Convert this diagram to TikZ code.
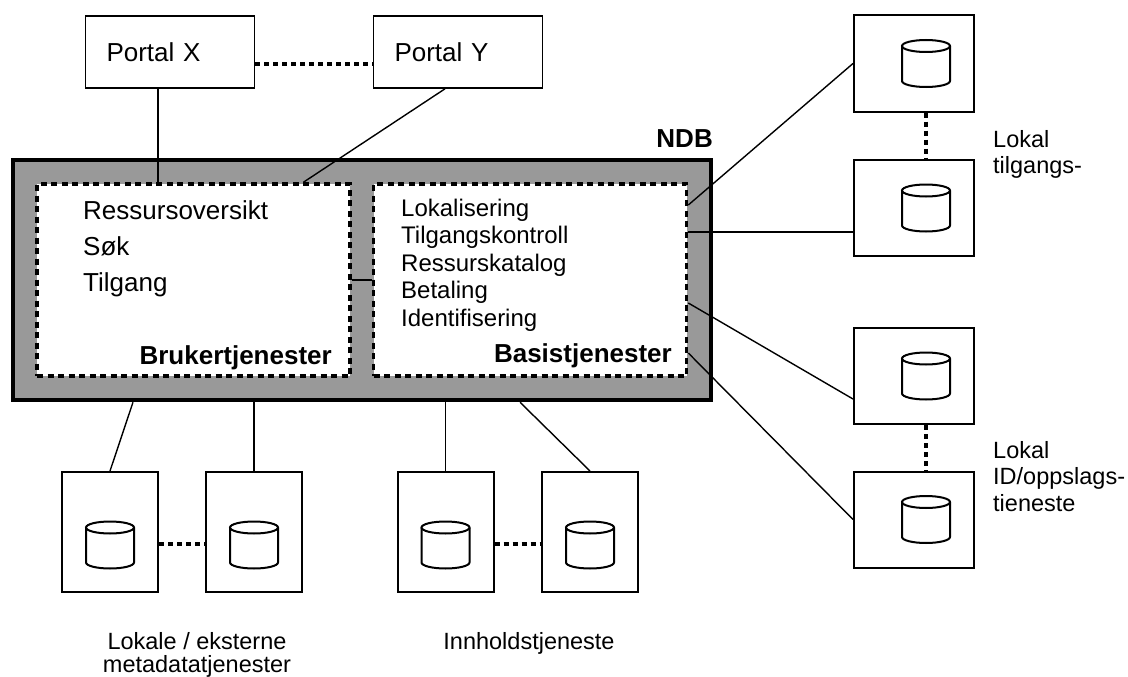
\documentclass[tikz,border=0pt]{standalone}
\usepackage{fontspec}
\setmainfont{Liberation Sans}
\usetikzlibrary{positioning}

\tikzset{dbcyl/.pic={
    \draw[line width=2pt, fill=white] (-24,-17.5) -- (-24,17.5) arc[start angle=180, end angle=360, x radius=24pt, y radius=6pt] -- (24,-17.5);
    \draw[line width=2pt, fill=white] (0,-17.5) ellipse [x radius=24pt, y radius=6pt];
}}

\begin{document}
\begin{tikzpicture}[x=1pt, y=-1pt,
    portal/.style={draw, line width=1.6pt, minimum height=72pt, inner xsep=21pt, text width=127pt, align=left, font=\fontsize{26}{30}\selectfont},
    area/.style={draw, line width=3.6pt, dash pattern=on 6pt off 4.5pt, fill=white, minimum width=313pt, minimum height=192pt},
    hbox/.style={draw, line width=2pt, fill=white, minimum width=120pt, minimum height=96pt},
    vbox/.style={draw, line width=2pt, fill=white, minimum width=96pt, minimum height=120pt},
    link/.style={line width=1.4pt},
    dots/.style={line width=3.2pt, dash pattern=on 5pt off 4pt},
    item/.style={anchor=base west, inner sep=0pt, font=\fontsize{26}{30}\selectfont},
    smallitem/.style={anchor=base west, inner sep=0pt, font=\fontsize{24}{28}\selectfont},
    caption/.style={inner sep=0pt, font=\fontsize{23.5}{26}\selectfont},
    title/.style={anchor=base east, inner sep=0pt, font=\bfseries\fontsize{26}{30}\selectfont}]
    \useasboundingbox (0,0) rectangle (1128,677);

    \node[portal] (portalX) at (170,52) {Portal X};
    \node[portal] (portalY) at (458,52) {Portal Y};

    \node[draw, line width=4.5pt, fill=black!40, minimum width=698pt, minimum height=240pt] (ndb) at (362,280) {};
    \node[title] (ndbname) at (713,147) {NDB};
    \node[area] (brk) at (193.5,280) {};
    \node[area] (bas) at (530,280) {};

    \node[item] (res) at (83,219) {Ressursoversikt};
    \node[item] (sok) at (83,255) {Søk};
    \node[item] (tilg) at (83,291) {Tilgang};
    \node[title] (brkname) at (332,364) {Brukertjenester};

    \node[smallitem] (lok) at (401,216) {Lokalisering};
    \node[smallitem] (tk) at (401,243.5) {Tilgangskontroll};
    \node[smallitem] (rk) at (401,271) {Ressurskatalog};
    \node[smallitem] (bet) at (401,298.5) {Betaling};
    \node[smallitem] (ident) at (401,326) {Identifisering};
    \node[title] (basname) at (672,362) {Basistjenester};

    \node[hbox] (r1) at (914,63.5) {};
    \node[hbox] (r2) at (914,208) {};
    \node[hbox] (r3) at (914,376) {};
    \node[hbox] (r4) at (914,519.5) {};
    \node[vbox] (ba) at (110,532) {};
    \node[vbox] (bb) at (254,532) {};
    \node[vbox] (bc) at (445.5,532) {};
    \node[vbox] (bd) at (590,532) {};

    \pic at ([xshift=12pt]r1.center) {dbcyl};
    \pic at ([xshift=12pt]r2.center) {dbcyl};
    \pic at ([xshift=12pt]r3.center) {dbcyl};
    \pic at ([xshift=12pt]r4.center) {dbcyl};
    \pic at ([yshift=-13pt]ba.center) {dbcyl};
    \pic at ([yshift=-13pt]bb.center) {dbcyl};
    \pic at ([yshift=-13pt]bc.center) {dbcyl};
    \pic at ([yshift=-13pt]bd.center) {dbcyl};

    \node[caption, anchor=base west] (tilgA) at (993,147) {Lokal};
    \node[caption, anchor=base west] (tilgB) at (993,173) {tilgangs-};
    \node[caption, anchor=base west] (idA) at (993,458) {Lokal};
    \node[caption, anchor=base west] (idB) at (993,484.5) {ID/oppslags-};
    \node[caption, anchor=base west] (idC) at (993,511) {tieneste};
    \node[caption, anchor=base] (metaA) at (197,649) {Lokale / eksterne};
    \node[caption, anchor=base] (metaB) at (197,672) {metadatatjenester};
    \node[caption, anchor=base] (innh) at (529,649) {Innholdstjeneste};

    \draw[link] ([xshift=-12pt]portalX.south) -- ([xshift=-12pt]portalX.south |- brk.north);
    \draw[link] ([xshift=-13pt]portalY.south) -- ([xshift=110pt]brk.north);
    \draw[dots] ([yshift=-12pt]portalX.east) -- ([yshift=-12pt]portalY.west);
    \draw[link] (brk.east) -- (bas.west);

    \draw[link] ([yshift=75pt]bas.east) -- (r1.west);
    \draw[link] ([yshift=48pt]bas.east) -- ([yshift=48pt]bas.east -| r2.west);
    \draw[link] ([yshift=-23pt]bas.east) -- ([yshift=-23pt]r3.west);
    \draw[link] ([yshift=-73pt]bas.east) -- (r4.west);
    \draw[dots] ([xshift=12pt]r1.south) -- ([xshift=12pt]r2.north);
    \draw[dots] ([xshift=12pt]r3.south) -- ([xshift=12pt]r4.north);

    \draw[link] ([xshift=-229pt]ndb.south) -- (ba.north);
    \draw[link] (bb.north |- ndb.south) -- (bb.north);
    \draw[link] (bc.north |- ndb.south) -- (bc.north);
    \draw[link] ([xshift=158pt]ndb.south) -- (bd.north);
    \draw[dots] ([yshift=-12pt]ba.east) -- ([yshift=-12pt]bb.west);
    \draw[dots] ([yshift=-12pt]bc.east) -- ([yshift=-12pt]bd.west);
\end{tikzpicture}
\end{document}
